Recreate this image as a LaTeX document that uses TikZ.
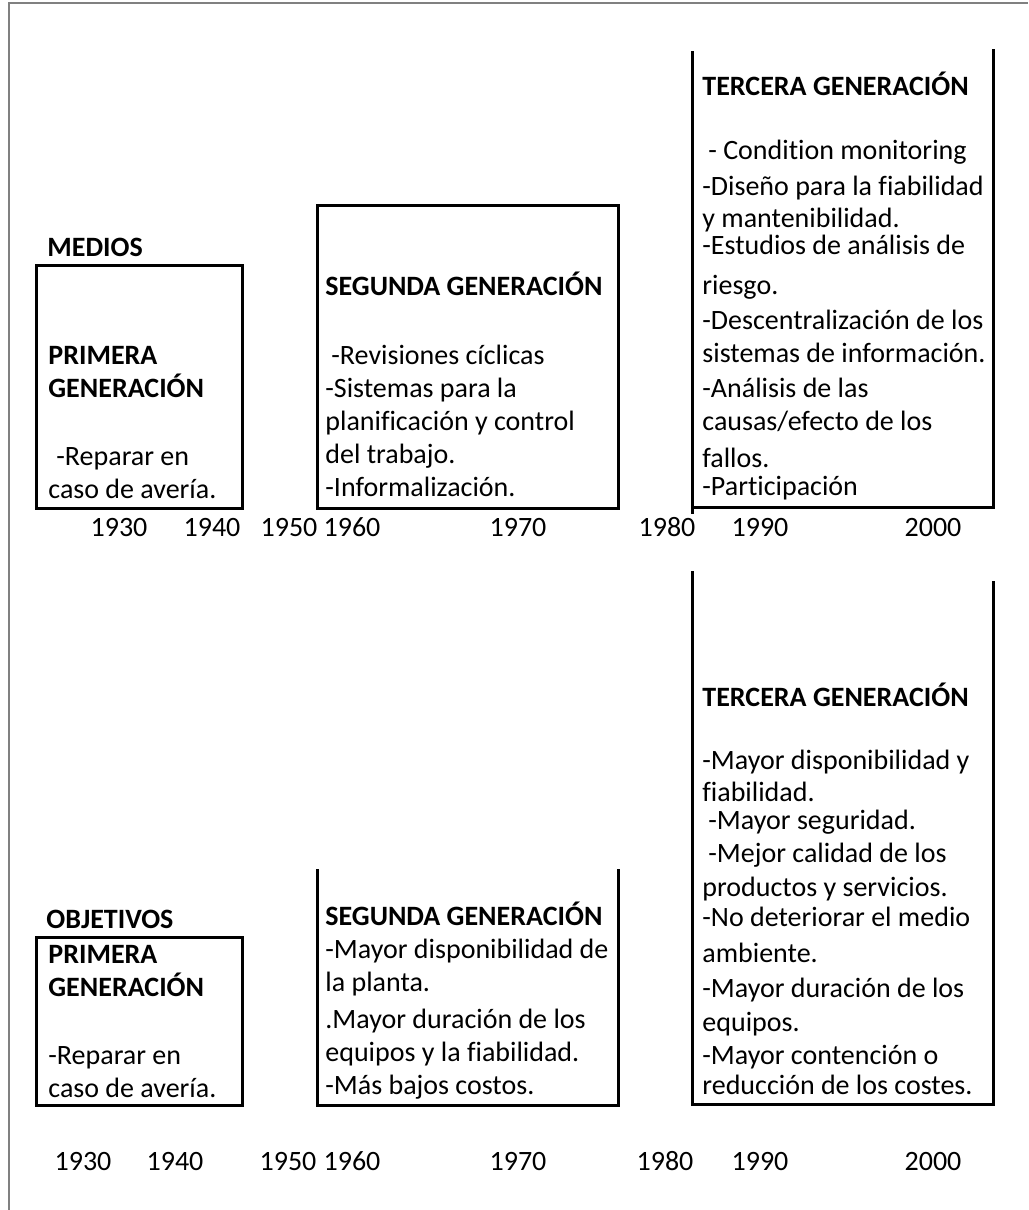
\documentclass[tikz,border=0pt]{standalone}
\usepackage{fontspec}
\setmainfont{Carlito}[Ligatures=NoCommon]

\begin{document}
\begin{tikzpicture}[x=0.5pt, y=-0.5pt,
    frame/.style={draw=gray, line width=0.7pt},
    boxline/.style={line width=1.5pt, line cap=rect},
    txt/.style={anchor=base west, align=left, inner sep=0pt,
        font=\fontsize{14}{16.5}\selectfont},
    year/.style={anchor=base, inner sep=0pt,
        font=\fontsize{14}{16.5}\selectfont}]
    \useasboundingbox (0,0) rectangle (1028,1210);

    % Draw the outer frame (top and left only)
    \draw[frame] (9,1210) -- (9,3) -- (1028,3);

    % Draw the boxes of the upper row
    \draw[boxline] (36,265) rectangle (242,508);
    \draw[boxline] (317,205) rectangle (618,508);
    \draw[boxline] (692,52) -- (692,512);
    \draw[boxline] (993,50) -- (993,507) -- (692,507);

    % Draw the boxes of the lower row
    \draw[boxline] (36,937) rectangle (242,1105);
    \draw[boxline] (317,870) -- (317,1105) -- (618,1105) -- (618,870);
    \draw[boxline] (692,572) -- (692,1104) -- (993,1104) -- (993,582);

    % Row titles
    \node[txt] (medios) at (47,256) {\textbf{MEDIOS}};
    \node[txt] (objetivos) at (46,928) {\textbf{OBJETIVOS}};

    % Texts of the upper row (placed at the baseline of their last line)
    \node[txt] (primM) at (48,498) {\textbf{PRIMERA}\\\textbf{GENERACIÓN}\\[17.5pt]%
        \hspace*{4pt}-Reparar en\\caso de avería.};
    \node[txt] (seguM) at (325,496) {\textbf{SEGUNDA GENERACIÓN}\\[18pt]%
        \hspace*{3pt}-Revisiones cíclicas\\-Sistemas para la\\planificación y control\\%
        del trabajo.\\-Informalización.};
    \node[txt] (tercM) at (702,495) {\textbf{TERCERA GENERACIÓN}\\[15.5pt]%
        \hspace*{3pt}- Condition monitoring\\[1.5pt]-Diseño para la fiabilidad\\[-0.5pt]%
        y mantenibilidad.\\[-3pt]-Estudios de análisis de\\[3.5pt]riesgo.\\[1pt]%
        -Descentralización de los\\sistemas de información.\\[1pt]-Análisis de las\\%
        causas/efecto de los\\[2pt]fallos.\\[-2.5pt]-Participación};

    % Texts of the lower row
    \node[txt] (primO) at (48,1097) {\textbf{PRIMERA}\\\textbf{GENERACIÓN}\\[17.5pt]%
        -Reparar en\\caso de avería.};
    \node[txt] (seguO) at (325,1094) {\textbf{SEGUNDA GENERACIÓN}\\-Mayor disponibilidad de\\%
        la planta.\\[2pt].Mayor duración de los\\equipos y la fiabilidad.\\-Más bajos costos.};
    \node[txt] (tercO) at (702,1094) {\textbf{TERCERA GENERACIÓN}\\[15pt]%
        -Mayor disponibilidad y\\[-0.5pt]fiabilidad.\\[-2.5pt]\hspace*{3pt}-Mayor seguridad.\\%
        \hspace*{3pt}-Mejor calidad de los\\[0.5pt]productos y servicios.\\[-1.5pt]%
        -No deteriorar el medio\\[1.5pt]ambiente.\\[1pt]-Mayor duración de los\\[0.5pt]%
        equipos.\\-Mayor contención o\\[-1.5pt]reducción de los costes.};

    % Draw the years under both rows
    \foreach \yr/\xt/\xb in {1930/119/83, 1940/212/175, 1950/289/288, 1960/352/352,
        1970/518/518, 1980/667/665, 1990/760/760, 2000/933/933}
    {
        \node[year] (top\yr) at (\xt,536) {\yr};
        \node[year] (bot\yr) at (\xb,1170) {\yr};
    }
\end{tikzpicture}
\end{document}
